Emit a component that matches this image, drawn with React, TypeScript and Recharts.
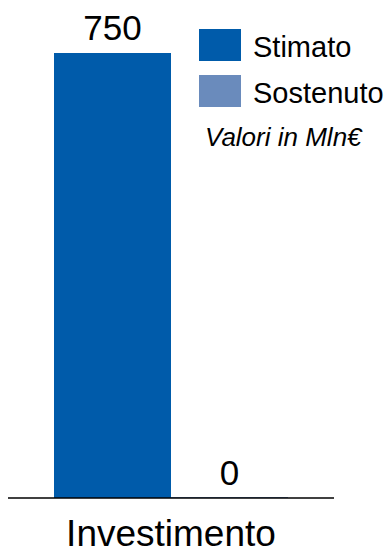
import { BarChart, Bar, XAxis, YAxis, Legend, LabelList } from "recharts";

const categories = ["Investimento"];
const stimato = [750];
const sostenuto = [0];

const SERIES = [
  { key: "stimato", name: "Stimato", color: "#005BAA" },
  { key: "sostenuto", name: "Sostenuto", color: "#6A8BBC" },
];

const FONT = "'Liberation Sans', Arial, Helvetica, sans-serif";

const data = categories.map((name, i) => ({
  name,
  stimato: stimato[i],
  sostenuto: sostenuto[i],
}));

function LegendBox() {
  return (
    <svg width={194} height={140} style={{ display: "block", overflow: "visible" }}>
      {SERIES.map((s, i) => (
        <g key={s.key}>
          <rect x={4} y={9 + i * 46} width={42} height={32} fill={s.color} />
          <text
            x={58}
            y={37 + i * 46}
            fontSize={29}
            fontFamily={FONT}
            fill="#000"
          >
            {s.name}
          </text>
        </g>
      ))}
      <text
        x={10}
        y={126}
        fontSize={26}
        fontStyle="italic"
        fontFamily={FONT}
        fill="#000"
      >
        Valori in Mln€
      </text>
    </svg>
  );
}

// value label drawn above each bar
function ValueLabel(props: any) {
  const { x, y, width, height, value } = props;
  if (value === undefined || value === null) return null;
  // zero bars get a 1px min size, so measure from the bar's bottom edge
  const top = value === 0 ? Number(y) + Number(height) : Number(y);
  return (
    <text
      x={Number(x) + Number(width) / 2}
      y={top - 13}
      textAnchor="middle"
      fill="#000"
      fontSize={35}
      fontFamily={FONT}
    >
      {value}
    </text>
  );
}

export default function App() {
  return (
    <div
      style={{
        position: "absolute",
        top: 8,
        left: 8,
        width: 381,
        height: 541,
        fontFamily: FONT,
      }}
    >
      <BarChart
        width={381}
        height={541}
        data={data}
        margin={{ top: 45, right: 55, left: 0, bottom: 0 }}
        barGap={0}
        barCategoryGap={46}
      >
        <XAxis
          dataKey="name"
          axisLine={{ stroke: "#000", strokeWidth: 1.5 }}
          tickLine={false}
          tickSize={0}
          tickMargin={22}
          height={51}
          tick={{ fill: "#000", fontSize: 37, fontFamily: FONT }}
        />
        <YAxis hide domain={[0, 750]} />
        <Legend
          layout="vertical"
          align="center"
          verticalAlign="middle"
          content={() => <LegendBox />}
          wrapperStyle={{ top: 12, left: 187, width: 194, height: 140 }}
        />
        {SERIES.map((s) => (
          <Bar
            key={s.key}
            dataKey={s.key}
            name={s.name}
            fill={s.color}
            minPointSize={1}
            isAnimationActive={false}
          >
            <LabelList dataKey={s.key} content={ValueLabel} />
          </Bar>
        ))}
      </BarChart>
    </div>
  );
}
